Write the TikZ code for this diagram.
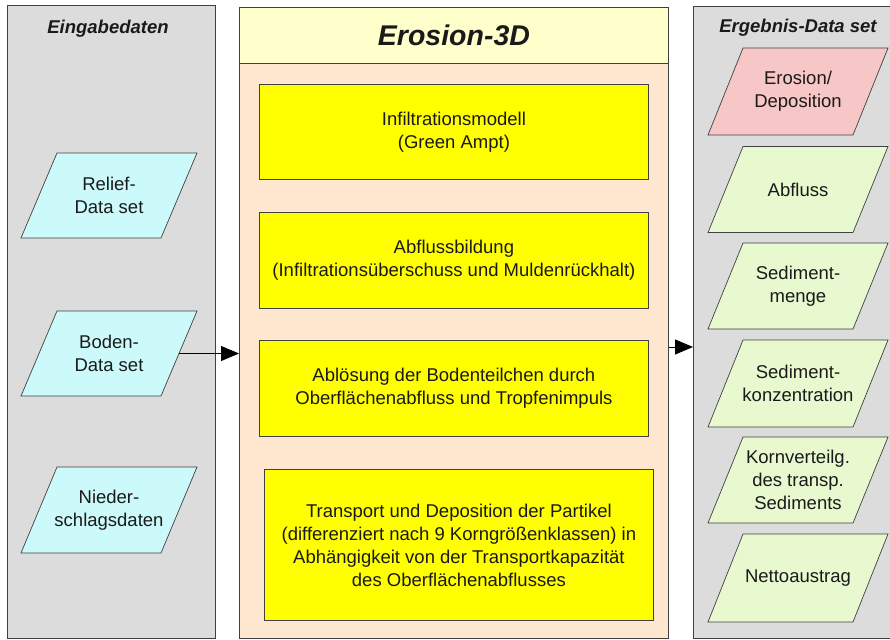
\documentclass[tikz,border=0pt]{standalone}
\usepackage{fontspec}
\setmainfont{Liberation Sans}
\usetikzlibrary{arrows.meta}
\definecolor{panelgray}{HTML}{DCDCDC}
\definecolor{inpcyan}{HTML}{CCFAFA}
\definecolor{titleyellow}{HTML}{FFFFCC}
\definecolor{peach}{HTML}{FFE6CF}
\definecolor{boxyellow}{HTML}{FFFF00}
\definecolor{pinkres}{HTML}{F7C6C6}
\definecolor{greenres}{HTML}{E8F9CF}
\definecolor{edge}{HTML}{404040}
\definecolor{txt}{HTML}{1A1A1A}
\newcommand{\bodyfont}{\fontsize{18.5}{23}\selectfont}
\tikzset{
  panel/.style={draw=edge, line width=0.9pt, fill=panelgray, anchor=north west, inner sep=0pt},
  paratitle/.style={font=\fontsize{18.5}{23}\selectfont\bfseries\itshape, text=txt},
  paraedge/.style={draw=edge, line width=0.7pt},
  paratext/.style={rectangle, inner sep=0pt, align=center, font=\bodyfont, text=txt},
  procbox/.style={draw=edge, line width=0.8pt, fill=boxyellow, anchor=north west,
    minimum width=389pt, align=center, font=\bodyfont, text=txt, inner sep=0pt},
  flow/.style={line width=0.8pt, draw=black, -{Triangle[length=18pt,width=15pt]}}
}
% #1 name, #2 cx, #3 cy, #4 total width, #5 height, #6 slant, #7 fill, #8 text
\newcommand{\dataset}[8]{%
  \path[paraedge, fill=#7, shift={(#2,#3)}]
    ({-#4/2},{#5/2}) -- ({#4/2-#6},{#5/2}) -- ({#4/2},{-#5/2}) -- ({-#4/2+#6},{-#5/2}) -- cycle;
  \node[paratext, minimum width={(#4-#6)*1pt}, minimum height={#5*1pt}] (#1) at (#2,#3) {#8};
}
\begin{document}
\begin{tikzpicture}[x=1pt,y=-1pt]
\useasboundingbox (0,0) rectangle (890,639);
\fill[white] (0,0) rectangle (890,639);

% left panel
\node[panel, minimum width=208pt, minimum height=633pt] (inp) at (7,5) {};
\node[paratitle] (inptitle) at (108,29) {Eingabedaten};
\dataset{relief}{109}{195.5}{176}{85}{36}{inpcyan}{Relief-\\Data set}
\dataset{boden}{109}{353.5}{176}{85}{36}{inpcyan}{Boden-\\Data set}
\dataset{nieder}{109}{510}{176}{86}{36}{inpcyan}{Nieder-\\schlagsdaten}

% center panel
\node[panel, fill=peach, minimum width=429pt, minimum height=631pt] (ero) at (239,7) {};
\node[panel, fill=titleyellow, minimum width=429pt, minimum height=56pt] (erohead) at (239,7) {};
\node[font=\fontsize{28.5}{34}\selectfont\bfseries\itshape, text=txt] (erotitle) at (erohead.center) {Erosion-3D};
\node[procbox, minimum height=95pt] (b1) at (259,84) {Infiltrationsmodell\\(Green Ampt)};
\node[procbox, minimum height=96pt] (b2) at (259,212) {Abflussbildung\\(Infiltrations\"uberschuss und Muldenr\"uckhalt)};
\node[procbox, minimum height=96pt] (b3) at (259,340) {Abl\"osung der Bodenteilchen durch\\Oberfl\"achenabfluss und Tropfenimpuls};
\node[procbox, minimum height=151pt] (b4) at (264,469) {Transport und Deposition der Partikel\\(differenziert nach 9 Korngr\"o\ss enklassen) in\\Abh\"angigkeit von der Transportkapazit\"at\\des Oberfl\"achenabflusses};

% right panel
\node[panel, minimum width=197pt, minimum height=632pt] (res) at (693,6) {};
\node[paratitle] (restitle) at (798,28) {Ergebnis-Data set};
\dataset{r1}{798}{91.5}{180}{87}{35}{pinkres}{Erosion/\\Deposition}
\dataset{r2}{798}{189.5}{180}{86}{35}{greenres}{Abfluss}
\dataset{r3}{798}{286}{180}{86}{35}{greenres}{Sediment-\\menge}
\dataset{r4}{798}{383.5}{180}{87}{35}{greenres}{Sediment-\\konzentration}
\dataset{r5}{798}{480}{180}{86}{35}{greenres}{Kornverteilg.\\des transp.\\Sediments}
\dataset{r6}{798}{578}{180}{88}{35}{greenres}{Nettoaustrag}

% connectors
\draw[flow] (boden.east) -- (boden.east -| ero.west);
\coordinate (outstart) at (ero.east |- 0,347);
\draw[flow] (outstart) -- (outstart -| res.west);
\end{tikzpicture}
\end{document}
